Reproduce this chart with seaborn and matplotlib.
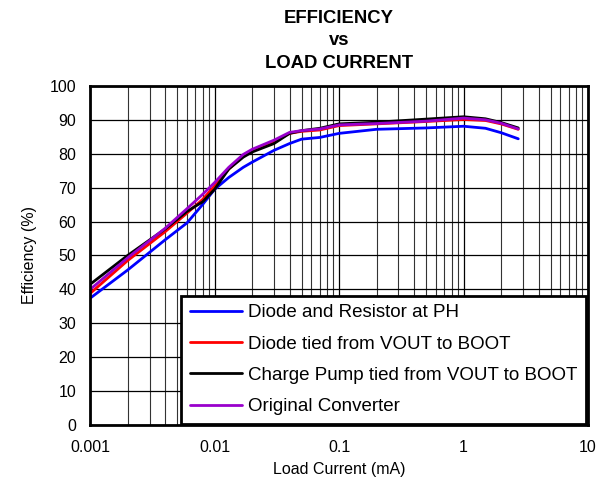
import numpy as np
import pandas as pd
import matplotlib
matplotlib.use("Agg")
import matplotlib.pyplot as plt
import matplotlib.ticker as mticker
import seaborn as sns

# load current (mA)
load_ma = [0.001, 0.002, 0.004, 0.006, 0.008, 0.01, 0.013, 0.017, 0.02, 0.03,
           0.04, 0.05, 0.07, 0.1, 0.2, 0.5, 1, 1.5, 2, 2.75]

# efficiency (%) per configuration
eff_diode_res = [37.4, 45.7, 54.6, 59.6, 65.0, 69.5, 73.0, 76.0, 77.5, 81.0,
                 83.0, 84.3, 84.8, 86.0, 87.2, 87.6, 88.1, 87.5, 86.2, 84.4]
eff_diode_boot = [38.8, 48.5, 57.0, 62.5, 66.5, 70.5, 75.5, 79.3, 81.0, 83.5,
                  86.0, 86.6, 87.0, 88.3, 88.8, 89.5, 90.1, 89.8, 88.8, 87.2]
eff_charge_pump = [41.5, 50.0, 57.8, 63.0, 65.8, 69.5, 75.5, 79.0, 80.5, 83.0,
                   86.0, 86.8, 87.5, 88.8, 89.3, 90.2, 90.9, 90.3, 89.2, 87.6]
eff_original = [40.0, 49.3, 58.0, 63.8, 68.0, 71.5, 76.0, 79.8, 81.3, 84.0,
                86.3, 86.8, 87.3, 88.5, 88.9, 89.6, 90.5, 90.0, 89.0, 87.3]

series_names = ["Diode and Resistor at PH", "Diode tied from VOUT to BOOT",
                "Charge Pump tied from VOUT to BOOT", "Original Converter"]
series_vals = [eff_diode_res, eff_diode_boot, eff_charge_pump, eff_original]
colors = ["#0000FF", "#FF0000", "#000000", "#9900CC"]

rows = []
for name, vals in zip(series_names, series_vals):
    for x, y in zip(load_ma, vals):
        rows.append({"load": x, "eff": y, "series": name})
df = pd.DataFrame(rows)

sns.set_style("white")
plt.rcParams["font.family"] = ["Liberation Sans", "DejaVu Sans"]
plt.rcParams["text.color"] = "black"
plt.rcParams["axes.labelcolor"] = "black"
plt.rcParams["xtick.color"] = "black"
plt.rcParams["ytick.color"] = "black"

fig = plt.figure(figsize=(6.05, 4.88), dpi=100)
ax = fig.add_axes([0.149, 0.129, 0.823, 0.695])

sns.lineplot(data=df, x="load", y="eff", hue="series", hue_order=series_names,
             palette=dict(zip(series_names, colors)), linewidth=2, ax=ax)

ax.set_xscale("log")
ax.set_xlim(0.001, 10)
ax.set_ylim(0, 100)
ax.set_yticks(range(0, 101, 10))
ax.xaxis.set_major_locator(mticker.LogLocator(base=10, numticks=10))
ax.xaxis.set_minor_locator(mticker.LogLocator(base=10, subs=np.arange(2, 10), numticks=10))
ax.xaxis.set_major_formatter(mticker.FuncFormatter(lambda v, p: f"{v:g}"))
ax.xaxis.set_minor_formatter(mticker.NullFormatter())
ax.grid(True, which="major", color="black", linewidth=0.9)
ax.grid(True, which="minor", axis="x", color="#333333", linewidth=0.8)
ax.tick_params(axis="both", which="both", length=0, labelsize=11.5)
ax.tick_params(axis="y", pad=10)
ax.tick_params(axis="x", pad=11)
for s in ax.spines.values():
    s.set_color("black")
    s.set_linewidth(2)

ax.set_xlabel("Load Current (mA)", fontsize=11.5, labelpad=5)
ax.set_ylabel("Efficiency (%)", fontsize=11.5, labelpad=9)
ax.set_title("EFFICIENCY\nvs\nLOAD CURRENT", fontsize=13.3, fontweight="bold",
             linespacing=1.42, pad=13)

leg = ax.legend(loc="lower right", bbox_to_anchor=(0.995, 0.004), fontsize=13.5,
                frameon=True, fancybox=False, framealpha=1, edgecolor="black",
                handlelength=2.8, handletextpad=0.3, labelspacing=0.76,
                borderpad=0.45, borderaxespad=0)
leg.get_frame().set_linewidth(2)

fig.savefig("out.png", dpi=100)
